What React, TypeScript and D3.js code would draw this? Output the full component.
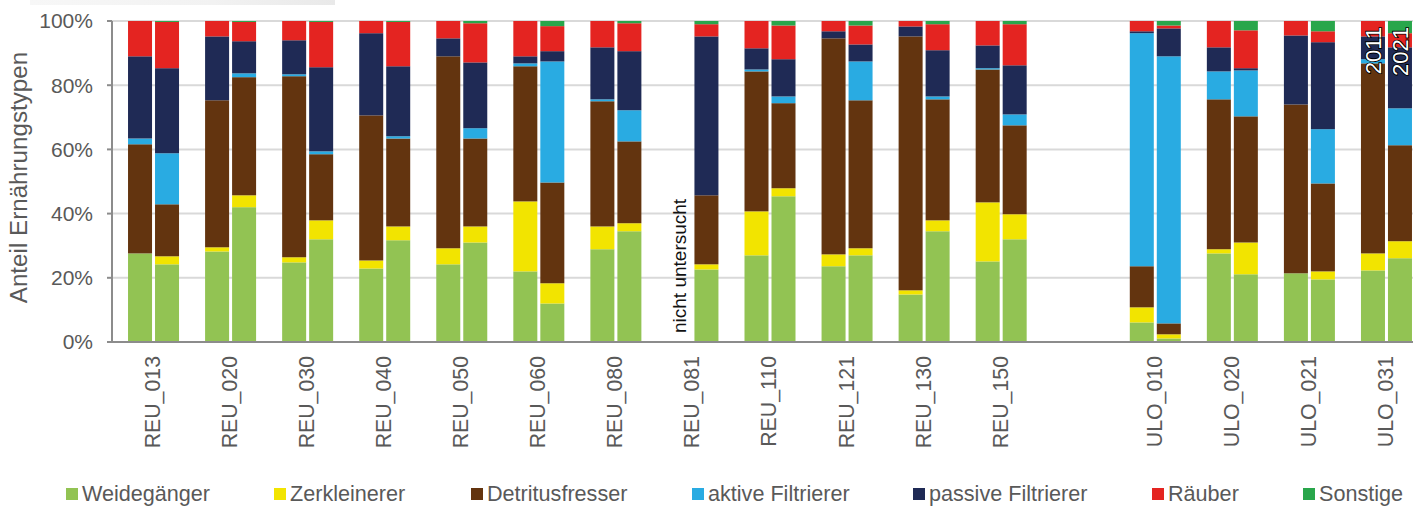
import React from "react";
import * as d3 from "d3";

const sites = [
  "REU_013", "REU_020", "REU_030", "REU_040", "REU_050", "REU_060", "REU_080", "REU_081",
  "REU_110", "REU_121", "REU_130", "REU_150", "ULO_010", "ULO_020", "ULO_021", "ULO_031",
];
const years = ["2011", "2021"];
const types = [
  "Weidegänger", "Zerkleinerer", "Detritusfresser", "aktive Filtrierer",
  "passive Filtrierer", "Räuber", "Sonstige",
];
const colors = ["#92c353", "#f2e400", "#63340f", "#29abe2", "#1f2a55", "#e42421", "#29a64b"];
const yTicks = [0, 20, 40, 60, 80, 100];
const notExamined = "nicht untersucht";

// 2011 (null = not examined)
const weide2011 = [27.6, 28.2, 24.8, 22.9, 24.2, 22.0, 28.9, null, 27.0, 23.6, 14.8, 25.1, 6.1, 27.6, 21.4, 22.3];
const zerkl2011 = [0, 1.3, 1.6, 2.5, 5.0, 21.8, 7.1, null, 13.7, 3.7, 1.3, 18.4, 4.7, 1.3, 0, 5.3];
const detri2011 = [34.0, 45.8, 56.4, 45.2, 59.8, 42.1, 39.0, null, 43.6, 67.3, 79.1, 41.4, 12.8, 46.7, 52.6, 59.2];
const aktiv2011 = [1.8, 0, 0.6, 0, 0, 0.9, 0.6, null, 0.6, 0, 0, 0.4, 72.6, 8.7, 0, 1.3];
const passi2011 = [25.6, 19.9, 10.6, 25.6, 5.6, 2.2, 16.2, null, 6.6, 2.2, 3.1, 7.1, 0.6, 7.5, 21.5, 7.1];
const raeub2011 = [11.0, 4.8, 6.0, 3.8, 5.4, 11.0, 8.2, null, 8.5, 3.2, 1.7, 7.6, 3.2, 8.2, 4.5, 4.8];
const sonst2011 = [0, 0, 0, 0, 0, 0, 0, null, 0, 0, 0, 0, 0, 0, 0, 0];

// 2021
const weide2021 = [24.2, 42.0, 32.0, 31.7, 31.0, 12.0, 34.5, 22.6, 45.4, 27.0, 34.5, 32.0, 1.1, 21.1, 19.5, 26.1];
const zerkl2021 = [2.5, 3.7, 5.9, 4.3, 5.0, 6.3, 2.5, 1.6, 2.5, 2.2, 3.4, 7.8, 1.3, 9.9, 2.5, 5.3];
const detri2021 = [16.2, 36.8, 20.6, 27.4, 27.4, 31.4, 25.5, 21.5, 26.5, 46.1, 37.7, 27.7, 3.4, 39.3, 27.4, 29.9];
const aktiv2021 = [15.9, 1.2, 0.9, 0.7, 3.2, 37.7, 9.7, 0, 2.1, 12.1, 0.9, 3.4, 83.2, 14.3, 16.9, 11.5];
const passi2021 = [26.5, 10.0, 26.2, 21.8, 20.5, 3.2, 18.4, 49.5, 11.6, 5.3, 14.4, 15.3, 8.7, 0.7, 27.1, 19.0];
const raeub2021 = [14.4, 6.0, 14.1, 13.8, 12.2, 7.8, 8.7, 3.8, 10.5, 5.9, 8.1, 12.8, 0.9, 11.8, 3.4, 4.4];
const sonst2021 = [0.3, 0.3, 0.3, 0.3, 0.7, 1.6, 0.7, 1.0, 1.4, 1.4, 1.0, 1.0, 1.4, 2.9, 3.2, 3.8];

const series2011 = [weide2011, zerkl2011, detri2011, aktiv2011, passi2011, raeub2011, sonst2011];
const series2021 = [weide2021, zerkl2021, detri2021, aktiv2021, passi2021, raeub2021, sonst2021];

const W = 1421;
const H = 506;
const FONT = "'Liberation Sans', Arial, Helvetica, sans-serif";
const GREY = "#595959";

export default function App() {
  const domain = [...sites.slice(0, 12), "__gap__", ...sites.slice(12)];
  const x = d3.scaleBand<string>().domain(domain).range([115, 1425]).padding(0);
  const step = x.bandwidth();
  const inner = d3
    .scaleBand<string>()
    .domain(years)
    .range([(step - 51) / 2, (step + 51) / 2])
    .paddingInner(3 / 27);
  const y = d3.scaleLinear().domain([0, 100]).range([342, 21]);
  const plotLeft = 112;
  const plotRight = 1413;

  const bars: JSX.Element[] = [];
  const yearSeries = [series2011, series2021];
  sites.forEach((site, i) => {
    years.forEach((yr, k) => {
      const ser = yearSeries[k];
      if (ser[0][i] == null) return;
      let acc = 0;
      ser.forEach((arr, t) => {
        const v = arr[i] as number;
        if (!v) return;
        const y0 = acc;
        acc += v;
        bars.push(
          <rect
            key={`${site}-${yr}-${t}`}
            x={(x(site) as number) + (inner(yr) as number)}
            width={inner.bandwidth()}
            y={y(Math.min(acc, 100))}
            height={y(y0) - y(Math.min(acc, 100))}
            fill={colors[t]}
          />
        );
      });
    });
  });

  const legendX = [66, 274, 471, 692, 913, 1152, 1303];
  const lastSite = sites[sites.length - 1];
  const missingIdx = weide2011.findIndex((v) => v == null);

  return (
    <svg
      width={W}
      height={H}
      style={{ position: "absolute", left: 0, top: 0, background: "#fff" }}
      fontFamily={FONT}
    >
      <defs>
        <linearGradient id="topfade" x1="0" x2="1" y1="0" y2="0">
          <stop offset="0" stopColor="#f7f7f7" />
          <stop offset="0.6" stopColor="#f2f2f2" />
          <stop offset="1" stopColor="#e9e9e9" />
        </linearGradient>
      </defs>
      <rect x={0} y={0} width={W} height={H} fill="#fff" />
      <rect x={30} y={0} width={305} height={5} fill="url(#topfade)" />

      {/* gridlines */}
      {yTicks.filter((t) => t > 0).map((t) => (
        <line key={t} x1={plotLeft} x2={plotRight} y1={y(t)} y2={y(t)} stroke="#d9d9d9" strokeWidth={2} />
      ))}

      {bars}

      {/* axes */}
      <line x1={plotLeft} x2={plotLeft} y1={y(100)} y2={y(0)} stroke="#8c8c8c" strokeWidth={2} />
      {yTicks.map((t) => (
        <g key={t}>
          <line x1={plotLeft - 5} x2={plotLeft} y1={y(t)} y2={y(t)} stroke="#8c8c8c" strokeWidth={2} />
          <text x={93} y={y(t)} dy="0.35em" textAnchor="end" fontSize={21} fill={GREY}>
            {t}%
          </text>
        </g>
      ))}
      <line x1={plotLeft - 5} x2={plotRight} y1={y(0)} y2={y(0)} stroke="#8c8c8c" strokeWidth={2} />

      {/* x labels */}
      {sites.map((s) => {
        const cx = (x(s) as number) + step / 2 - 1;
        return (
          <text
            key={s}
            transform={`translate(${cx},356) rotate(-90)`}
            dy="0.35em"
            textAnchor="end"
            fontSize={21.3}
            fill={GREY}
          >
            {s}
          </text>
        );
      })}

      {/* y title */}
      <text
        transform={`translate(19,${(y(0) + y(100)) / 2 - 4}) rotate(-90)`}
        dy="0.35em"
        textAnchor="middle"
        fontSize={24.2}
        fill={GREY}
      >
        Anteil Ernährungstypen
      </text>

      {/* not examined */}
      <text
        transform={`translate(${(x(sites[missingIdx]) as number) + (inner("2011") as number) + inner.bandwidth() / 2},333) rotate(-90)`}
        dy="0.35em"
        textAnchor="start"
        fontSize={19}
        fill="#111"
      >
        {notExamined}
      </text>

      {/* year labels */}
      {years.map((yr) => (
        <text
          key={yr}
          transform={`translate(${(x(lastSite) as number) + (inner(yr) as number) + inner.bandwidth() / 2},27) rotate(-90)`}
          dy="0.36em"
          textAnchor="end"
          fontSize={22}
          fill="#fff"
          stroke="#000"
          strokeWidth={1.8}
          paintOrder="stroke"
        >
          {yr}
        </text>
      ))}

      {/* legend */}
      {types.map((t, i) => (
        <g key={t}>
          <rect x={legendX[i]} y={488} width={12} height={12} fill={colors[i]} />
          <text x={legendX[i] + 16} y={500.5} fontSize={21.6} fill={GREY}>
            {t}
          </text>
        </g>
      ))}
    </svg>
  );
}
